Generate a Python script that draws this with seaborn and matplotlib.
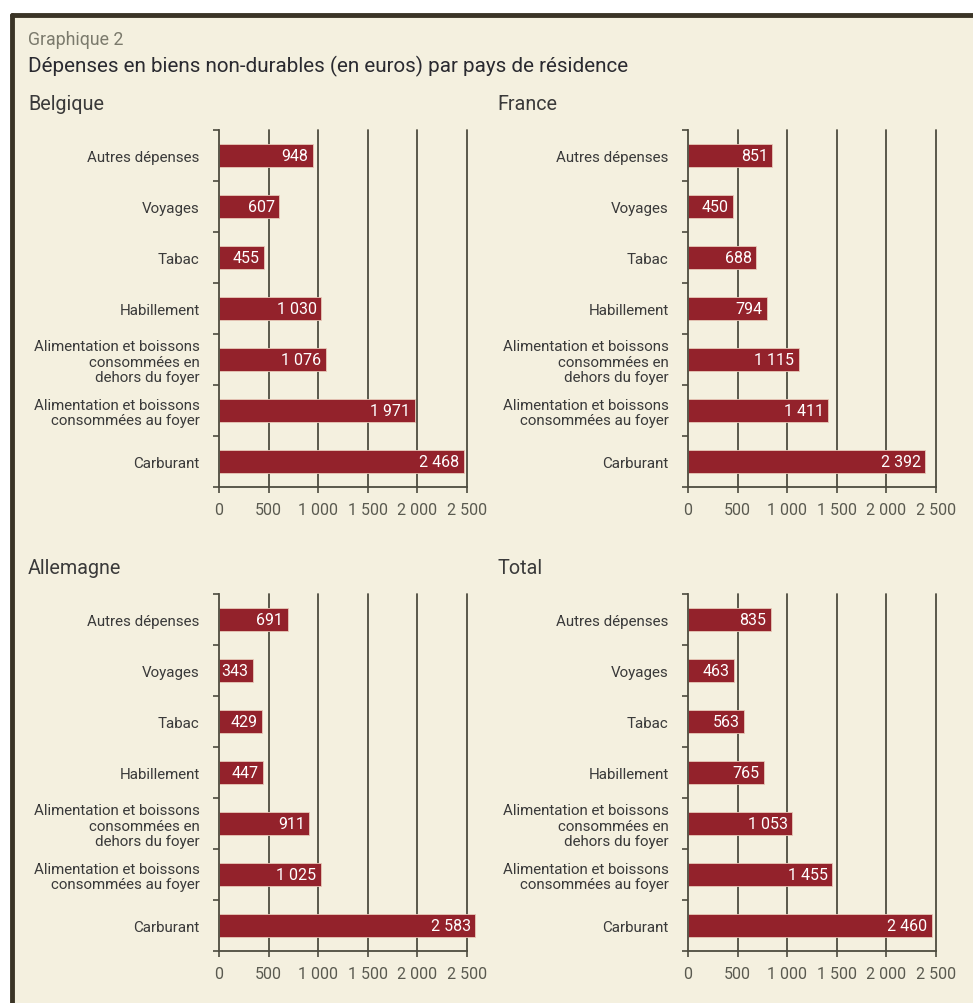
import matplotlib
matplotlib.use("Agg")
import matplotlib.pyplot as plt
import seaborn as sns
import pandas as pd
import numpy as np
from matplotlib.lines import Line2D
from matplotlib.patches import Rectangle

categories = ["Autres dépenses", "Voyages", "Tabac", "Habillement",
              "Alimentation et boissons\nconsommées en\ndehors du foyer",
              "Alimentation et boissons\nconsommées au foyer", "Carburant"]
belgique = [948, 607, 455, 1030, 1076, 1971, 2468]
france = [851, 450, 688, 794, 1115, 1411, 2392]
allemagne = [691, 343, 429, 447, 911, 1025, 2583]
total = [835, 463, 563, 765, 1053, 1455, 2460]
panels = ["Belgique", "France", "Allemagne", "Total"]
xticks = [0, 500, 1000, 1500, 2000, 2500]
xtick_labels = ["0", "500", "1 000", "1 500", "2 000", "2 500"]

sns.set_theme(style="white")
plt.rcParams['font.family'] = ['Roboto', 'DejaVu Sans']

BG = "#F4F0DF"
BAR = "#93222B"
GRID = "#4d4b3f"

fig = plt.figure(figsize=(9.73, 10.04), dpi=100, facecolor="white")
W, H = 973, 1004
fig.patches.append(Rectangle((12 / W, 0), 1, 1 - 16 / H, transform=fig.transFigure,
                             facecolor=BG, edgecolor="none", zorder=-10))
fig.lines.append(Line2D([12 / W, 1], [1 - 16 / H, 1 - 16 / H], transform=fig.transFigure,
                        color="#3a3426", lw=3.5))
fig.lines.append(Line2D([12 / W, 12 / W], [0, 1 - 16 / H], transform=fig.transFigure,
                        color="#3a3426", lw=3.5))

fig.text(28 / W, 1 - 40 / H, "Graphique 2", fontsize=12.8, color="#7b7a6c", va="center")
fig.text(28 / W, 1 - 66 / H, "Dépenses en biens non-durables (en euros) par pays de résidence",
         fontsize=14.9, color="#2a2a30", va="center")

data_list = [belgique, france, allemagne, total]
lefts = [219 / W, 688 / W]
tops = [131, 595]
title_y = [104, 568]
title_x = [28, 497]
aw = 248 / W
ah = 357 / H

for i, (name, vals) in enumerate(zip(panels, data_list)):
    r, c = divmod(i, 2)
    ax = fig.add_axes([lefts[c], 1 - (tops[r] + 357) / H, aw, ah])
    ax.set_facecolor("none")
    df = pd.DataFrame({"cat": categories, "val": vals})
    sns.barplot(data=df, y="cat", x="val", orient="h", color=BAR, saturation=1,
                width=0.47, ax=ax)
    for p in ax.patches:
        p.set_clip_on(False)
        p.set_edgecolor("#e8c9b8")
        p.set_linewidth(0.6)
    ax.set_xlim(0, 2500)
    ax.set_ylim(6.5, -0.5)
    ax.set_xlabel("")
    ax.set_ylabel("")
    ax.set_xticks(xticks)
    ax.set_xticklabels(xtick_labels, fontsize=11.5, color="#5a5a50")
    for x in xticks[1:]:
        ax.axvline(x, color=GRID, lw=1.3, zorder=0, clip_on=False)
    for j, v in enumerate(vals):
        txt = f"{v:,}".replace(",", " ")
        ax.text(v - 45, j, txt, ha="right", va="center", color="white",
                fontsize=11.5, clip_on=False)
    ax.set_yticks(range(len(categories)))
    ax.set_yticklabels(categories, fontsize=10.9, color="#3a3a3a", linespacing=1.12)
    ax.set_yticks(np.arange(-0.5, 7.0, 1.0), minor=True)
    ax.tick_params(axis="y", which="major", length=0, pad=14)
    ax.tick_params(axis="y", which="minor", length=4, width=1.2, color=GRID, left=True)
    ax.tick_params(axis="x", which="major", length=4, width=1.2, color=GRID, bottom=True, pad=7)
    for s in ["top", "right"]:
        ax.spines[s].set_visible(False)
    for s in ["left", "bottom"]:
        ax.spines[s].set_color(GRID)
        ax.spines[s].set_linewidth(1.3)
    fig.text(title_x[c] / W, 1 - title_y[r] / H, name, fontsize=14.2, color="#3a3a3a",
             va="center")

fig.savefig("out.png", dpi=100, facecolor=fig.get_facecolor())
